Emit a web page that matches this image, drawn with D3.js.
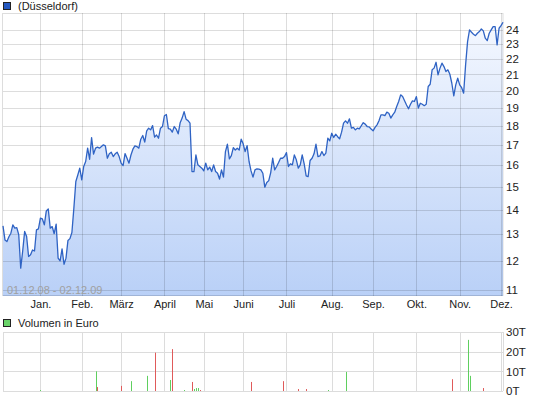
<!DOCTYPE html>
<html>
<head>
<meta charset="utf-8">
<script src="https://cdn.jsdelivr.net/npm/d3@7"></script>
<style>
  body { margin: 0; background: #fff; }
  text { font-family: "Liberation Sans", Arial, sans-serif; }
</style>
</head>
<body>
<div id="chart"></div>
<script>
// Kurs (Düsseldorf), ein Wert pro Handelstag, 01.12.08 - 02.12.09
var kurse = [
  13.33, 12.78, 12.72, 12.90, 13.04, 13.37, 13.24, 13.26, 12.98, 11.74,
  12.36, 13.11, 12.91, 12.16, 12.22, 12.40, 12.36, 13.17, 13.21, 13.64,
  13.61, 13.37, 13.94, 14.02, 13.24, 13.30, 13.02, 13.40, 12.10, 12.00,
  12.44, 11.88, 12.10, 12.76, 12.83, 13.07, 14.06, 15.23, 15.53, 15.85,
  15.30, 15.93, 16.17, 16.83, 16.28, 17.37, 16.53, 16.83, 16.88, 16.83,
  16.91, 17.00, 16.95, 16.33, 16.55, 16.63, 16.41, 16.55, 16.63, 16.41,
  16.09, 15.97, 16.56, 16.33, 16.09, 16.49, 16.78, 16.95, 16.91, 16.83,
  17.29, 17.48, 17.14, 17.73, 17.87, 17.78, 18.01, 17.40, 17.51, 17.34,
  17.87, 17.96, 18.55, 18.62, 17.85, 17.82, 17.66, 17.96, 17.82, 17.57,
  18.17, 18.42, 18.78, 18.36, 18.28, 18.14, 15.69, 15.69, 16.49, 16.01,
  15.93, 15.85, 15.72, 16.09, 15.77, 15.90, 15.69, 16.01, 15.69, 15.61,
  15.34, 15.77, 15.43, 16.66, 17.03, 16.30, 16.46, 16.86, 16.74, 16.83,
  16.74, 17.29, 17.05, 16.66, 16.96, 16.17, 15.72, 15.43, 15.77, 15.82,
  15.80, 15.77, 15.61, 14.97, 15.18, 15.27, 15.64, 16.33, 15.77, 15.93,
  16.12, 16.33, 16.33, 16.41, 16.61, 15.93, 16.06, 16.01, 16.49, 16.25,
  15.85, 16.01, 16.49, 16.06, 15.49, 15.45, 16.22, 16.33, 16.55, 17.03,
  16.41, 16.44, 16.66, 16.46, 16.58, 17.34, 17.20, 17.60, 17.38, 17.55,
  17.42, 17.31, 17.66, 18.14, 18.27, 18.14, 18.38, 17.87, 17.91, 17.78,
  17.87, 17.83, 18.00, 18.17, 18.09, 17.96, 17.94, 17.83, 17.73, 17.91,
  18.05, 18.27, 18.60, 18.60, 18.56, 18.75, 18.69, 18.42, 18.60, 18.75,
  19.07, 19.36, 19.75, 19.65, 19.40, 19.16, 18.94, 19.20, 19.40, 19.36,
  19.65, 18.98, 19.26, 19.20, 19.12, 19.20, 20.25, 20.39, 21.29, 21.40,
  21.78, 20.97, 21.40, 21.72, 21.50, 21.18, 21.29, 21.01, 20.45, 19.69,
  20.35, 20.76, 20.35, 20.18, 19.85, 21.61, 23.17, 24.00, 23.83, 23.69,
  23.59, 23.76, 23.88, 24.07, 23.93, 23.41, 23.24, 23.76, 24.00, 24.24,
  24.24, 22.94, 24.12, 24.31, 24.56
];

// Monatsanfaenge (Index des Handelstages) und Beschriftung
var monate = ["Jan.", "Feb.", "März", "April", "Mai", "Juni", "Juli", "Aug.", "Sep.", "Okt.", "Nov.", "Dez."];
var monatsTag = [19, 40, 60, 82, 102, 122, 144, 167, 188, 210, 232, 253];

// Kursachse
var kursTicks = [11, 12, 13, 14, 15, 16, 17, 18, 19, 20, 21, 22, 23, 24];

// Volumen in Tausend Euro: Handelstag, Wert, Richtung (1 = steigend, -1 = fallend)
var volTag = [19, 47, 48, 60, 65, 73, 77, 85, 86, 92, 96, 97, 98, 99, 100, 126, 142, 150, 154, 165, 174, 228, 236, 237, 244];
var volWert = [0.5, 10, 2, 2.6, 5, 7.7, 19.5, 5.6, 21.3, 0.5, 4.6, 1, 1.5, 1.5, 0.5, 4.6, 5, 1, 1, 0.5, 9.7, 6, 26, 7.7, 1.5];
var volRichtung = [1, 1, -1, -1, 1, 1, -1, 1, -1, 1, -1, 1, 1, 1, -1, -1, -1, -1, -1, 1, 1, -1, 1, 1, -1];
var volTicks = [0, 10, 20, 30];

var W = 545, H = 401;
var left = 3, right = 503;

var svg = d3.select("#chart").append("svg")
  .attr("width", W).attr("height", H);

//escalas
var x = d3.scaleLinear().domain([0, kurse.length - 1]).range([left, right]);
var y = d3.scaleLog().domain([10.8, 25.25]).range([296, 13]);
var yv = d3.scaleLinear().domain([0, 30]).range([391, 332]);

// gradient for the area
var defs = svg.append("defs");
var grad = defs.append("linearGradient").attr("id", "flaeche")
  .attr("gradientUnits", "userSpaceOnUse")
  .attr("x1", 0).attr("y1", 13).attr("x2", 0).attr("y2", 296);
grad.append("stop").attr("offset", "0%").attr("stop-color", "#f6f9ff");
grad.append("stop").attr("offset", "100%").attr("stop-color", "#b9d0f7");

// ---------- Kurs-Chart ----------
var gridColor = "rgba(0,0,0,0.135)";

// frame background
svg.append("rect").attr("x", left).attr("y", 13)
  .attr("width", right - left).attr("height", 283).attr("fill", "#fff");

var area = d3.area()
  .x(function(d, i) { return x(i); })
  .y0(296)
  .y1(function(d) { return y(d); });

svg.append("path").attr("d", area(kurse)).attr("fill", "url(#flaeche)");

// grid
var grid = svg.append("g").attr("class", "grid");
grid.selectAll("line.h").data(kursTicks).enter().append("line")
  .attr("x1", left).attr("x2", right)
  .attr("y1", function(d) { return Math.round(y(d)) + 0.5; })
  .attr("y2", function(d) { return Math.round(y(d)) + 0.5; })
  .attr("stroke", gridColor);
grid.selectAll("line.v").data(monatsTag).enter().append("line")
  .attr("x1", function(d) { return Math.round(x(d)) + 0.5; })
  .attr("x2", function(d) { return Math.round(x(d)) + 0.5; })
  .attr("y1", 13).attr("y2", 296)
  .attr("stroke", gridColor);
// frame
grid.append("rect").attr("x", left - 0.5).attr("y", 13.5)
  .attr("width", right - left + 0.5).attr("height", 282)
  .attr("fill", "none").attr("stroke", gridColor);

// Kurslinie
var linie = d3.line()
  .x(function(d, i) { return x(i); })
  .y(function(d) { return y(d); });

svg.append("path").attr("d", linie(kurse))
  .attr("fill", "none").attr("stroke", "#2f63c4")
  .attr("stroke-width", 1.3).attr("stroke-linejoin", "round");

// Zeitraum
svg.append("text").attr("x", 7).attr("y", 294)
  .style("font-size", "11px").attr("fill", "#a0a0a0")
  .text("01.12.08 - 02.12.09");

// right axis
var yAxis = d3.axisRight(y).tickValues(kursTicks).tickSize(0).tickPadding(0)
  .tickFormat(d3.format("d"));
svg.append("g").attr("transform", "translate(506,0)").call(yAxis)
  .call(function(g) { g.select(".domain").remove(); })
  .selectAll("text").style("font-size", "11.5px").attr("fill", "#222");

// Monatsachse
var xAxis = d3.axisBottom(x).tickValues(monatsTag).tickSize(0).tickPadding(0)
  .tickFormat(function(d, i) { return monate[i]; });
svg.append("g").attr("transform", "translate(0,300)").call(xAxis)
  .call(function(g) { g.select(".domain").remove(); })
  .selectAll("text").style("font-size", "11px").attr("fill", "#222");

// legend
svg.append("rect").attr("x", 3.5).attr("y", 2.5).attr("width", 7).attr("height", 7)
  .attr("fill", "#2458c0").attr("stroke", "#222");
svg.append("text").attr("x", 18).attr("y", 10)
  .style("font-size", "11px").attr("fill", "#222").text("(Düsseldorf)");

// ---------- Volumen ----------
svg.append("rect").attr("x", 3.5).attr("y", 319.5).attr("width", 7).attr("height", 7)
  .attr("fill", "#6ad46a").attr("stroke", "#222");
svg.append("text").attr("x", 18).attr("y", 327)
  .style("font-size", "11px").attr("fill", "#222").text("Volumen in Euro");

var vgrid = svg.append("g");
vgrid.selectAll("line.h").data(volTicks).enter().append("line")
  .attr("x1", left).attr("x2", right)
  .attr("y1", function(d) { return Math.round(yv(d)) + 0.5; })
  .attr("y2", function(d) { return Math.round(yv(d)) + 0.5; })
  .attr("stroke", "#dcdcdc");
vgrid.selectAll("line.v").data([0].concat(monatsTag, [kurse.length - 1])).enter().append("line")
  .attr("x1", function(d) { return Math.round(x(d)) + 0.5; })
  .attr("x2", function(d) { return Math.round(x(d)) + 0.5; })
  .attr("y1", 332).attr("y2", 391)
  .attr("stroke", "#dcdcdc");

svg.selectAll("line.vol").data(volTag).enter().append("line")
  .attr("class", "vol")
  .attr("x1", function(d) { return Math.round(x(d)) + 0.5; })
  .attr("x2", function(d) { return Math.round(x(d)) + 0.5; })
  .attr("y1", yv(0))
  .attr("y2", function(d, i) { return yv(volWert[i]); })
  .attr("stroke", function(d, i) { return volRichtung[i] > 0 ? "#5fcf5f" : "#e05a5a"; })
  .attr("stroke-width", 1);

var vAxis = d3.axisRight(yv).tickValues(volTicks).tickSize(0).tickPadding(0)
  .tickFormat(function(d) { return d + "T"; });
svg.append("g").attr("transform", "translate(506,0)").call(vAxis)
  .call(function(g) { g.select(".domain").remove(); })
  .selectAll("text").style("font-size", "11.5px").attr("fill", "#222");
</script>
</body>
</html>
